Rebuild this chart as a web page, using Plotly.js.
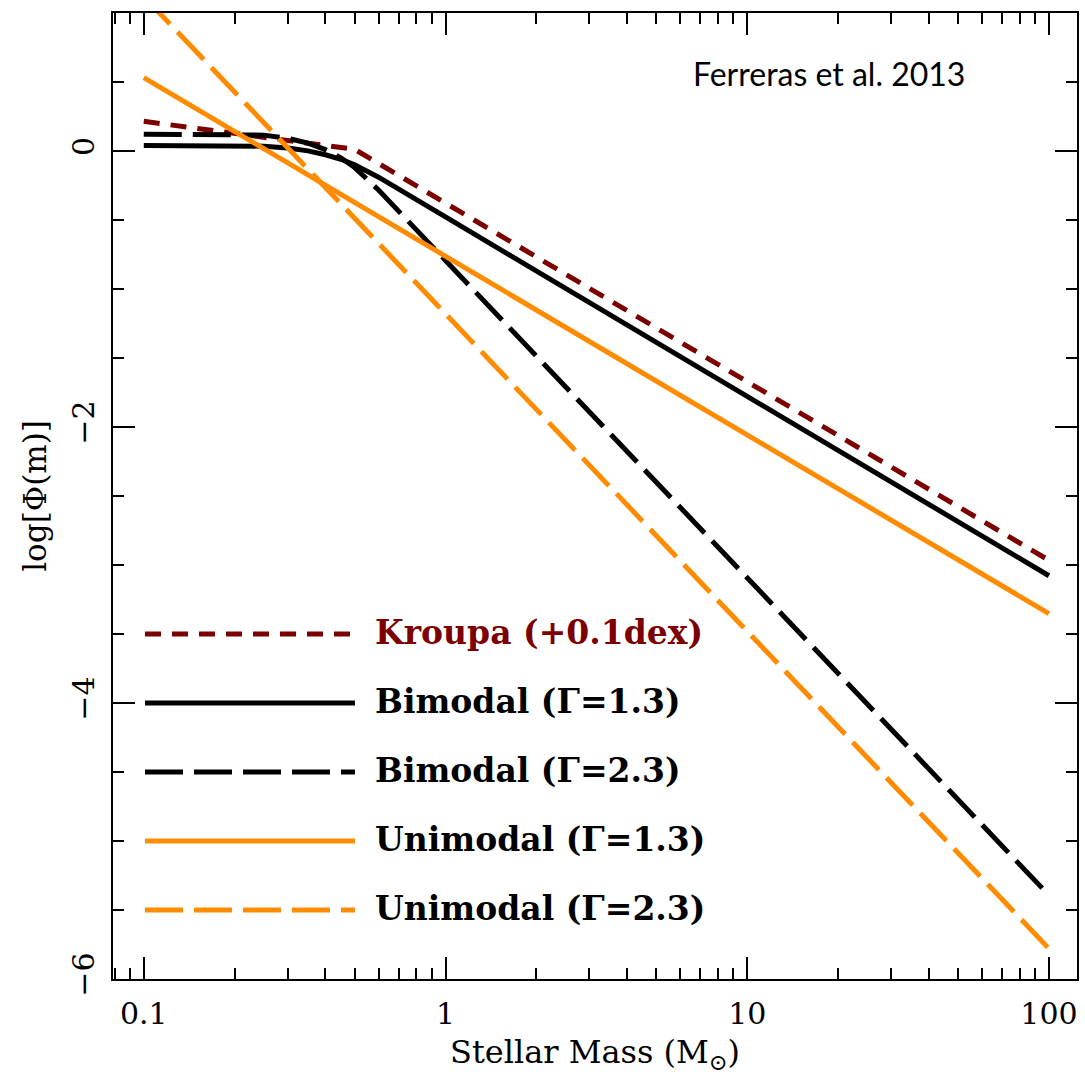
<!DOCTYPE html>
<html>
<head>
<meta charset="utf-8">
<script src="https://cdn.plot.ly/plotly-3.0.1.min.js"></script>
<style>html,body{margin:0;padding:0;background:#fff;}#chart{width:1085px;height:1075px;}</style>
</head>
<body>
<div id="chart"></div>
<script>
// ---- data ----
const massKroupa = [0.1, 0.5, 100];
const logPhiKroupa = [0.215, 0.012, -2.966];

const massBimodal = [0.1, 0.2, 0.25, 0.3, 0.35, 0.4, 0.45, 0.5, 0.55, 0.6, 1, 10, 100];
const logPhiBimodal13 = [0.039, 0.039, 0.035, 0.021, 0.001, -0.027, -0.060, -0.100, -0.143, -0.190, -0.478, -1.778, -3.078];
const logPhiBimodal23 = [0.122, 0.122, 0.115, 0.092, 0.057, 0.010, -0.049, -0.120, -0.199, -0.283, -0.793, -3.093, -5.393];

const massUnimodal = [0.1, 100];
const logPhiUnimodal13 = [0.532, -3.352];
const logPhiUnimodal23 = [1.12, -5.78];

const seriesNames = ["Kroupa (+0.1dex)", "Bimodal (\u0393=1.3)", "Bimodal (\u0393=2.3)", "Unimodal (\u0393=1.3)", "Unimodal (\u0393=2.3)"];
const xTickVals = [0.1, 1, 10, 100];
const xTickText = ["0.1", "1", "10", "100"];
const xMinorVals = [0.08, 0.09, 0.2, 0.3, 0.4, 0.5, 0.6, 0.7, 0.8, 0.9, 2, 3, 4, 5, 6, 7, 8, 9, 20, 30, 40, 50, 60, 70, 80, 90];
const yTickVals = [-6, -4, -2, 0];

// ---- styles ----
const RED = "#7d0000", ORANGE = "#ff8c00", BLACK = "#000000";
const styles = [
  {color: RED, dash: "16px,11px", textColor: RED},
  {color: BLACK, dash: "solid", textColor: BLACK},
  {color: BLACK, dash: "38px,11px", textColor: BLACK},
  {color: ORANGE, dash: "solid", textColor: BLACK},
  {color: ORANGE, dash: "38px,11px", textColor: BLACK}
];
const xs = [massKroupa, massBimodal, massBimodal, massUnimodal, massUnimodal];
const ys = [logPhiKroupa, logPhiBimodal13, logPhiBimodal23, logPhiUnimodal13, logPhiUnimodal23];

const traces = seriesNames.map((n, i) => ({
  type: "scatter", mode: "lines", name: n, x: xs[i], y: ys[i],
  line: {color: styles[i].color, width: 5, dash: styles[i].dash},
  hoverinfo: "skip", showlegend: false
}));

// legend drawn inside the plot
const legendY = [5/14, 4/14, 3/14, 2/14, 1/14];
const shapes = [], annotations = [];
seriesNames.forEach((n, i) => {
  shapes.push({type: "line", xref: "paper", yref: "paper", x0: 0.0332, x1: 0.251, y0: legendY[i], y1: legendY[i],
    line: {color: styles[i].color, width: 5, dash: styles[i].dash}});
  annotations.push({xref: "paper", yref: "paper", x: 0.2697, y: legendY[i] + 0.002, xanchor: "left", yanchor: "middle",
    text: n, showarrow: false, font: {family: "DejaVu Serif", size: 33, color: styles[i].textColor, weight: "bold"}});
});
annotations.push({xref: "paper", yref: "paper", x: 0.7427, y: 0.937, xanchor: "center", yanchor: "middle",
  text: "Ferreras et al. 2013", showarrow: false, font: {family: "Lato", size: 32, color: "#000"}});

const axisCommon = {
  showline: true, linecolor: "#000", linewidth: 2, mirror: "allticks",
  ticks: "inside", ticklen: 22, tickwidth: 2, tickcolor: "#000",
  showgrid: false, zeroline: false,
  tickfont: {family: "DejaVu Serif", size: 30, color: "#000"}
};

const layout = {
  width: 1085, height: 1075,
  margin: {l: 113, r: 8, t: 13, b: 96},
  paper_bgcolor: "#fff", plot_bgcolor: "#fff",
  showlegend: false,
  xaxis: Object.assign({}, axisCommon, {
    type: "log", range: [-1.102, 2.093],
    tickmode: "array", tickvals: xTickVals, ticktext: xTickText,
    ticklabelstandoff: 7,
    minor: {tickmode: "array", tickvals: xMinorVals, ticks: "inside", ticklen: 11, tickwidth: 2, tickcolor: "#000", showgrid: false},
    title: {text: "Stellar Mass (M<sub>\u2299</sub>)", font: {family: "DejaVu Serif", size: 32, color: "#000"}, standoff: 20}
  }),
  yaxis: Object.assign({}, axisCommon, {
    range: [-6.0, 1.0],
    tickmode: "array", tickvals: yTickVals,
    tickangle: -90, ticklabelstandoff: 5,
    minor: {tickmode: "linear", tick0: 0, dtick: 0.5, ticks: "inside", ticklen: 11, tickwidth: 2, tickcolor: "#000", showgrid: false},
    title: {text: "log[\u03A6(m)]", font: {family: "DejaVu Serif", size: 31, color: "#000"}, standoff: 10}
  }),
  shapes: shapes,
  annotations: annotations
};

Plotly.newPlot("chart", traces, layout, {displayModeBar: false, staticPlot: true});
</script>
</body>
</html>
